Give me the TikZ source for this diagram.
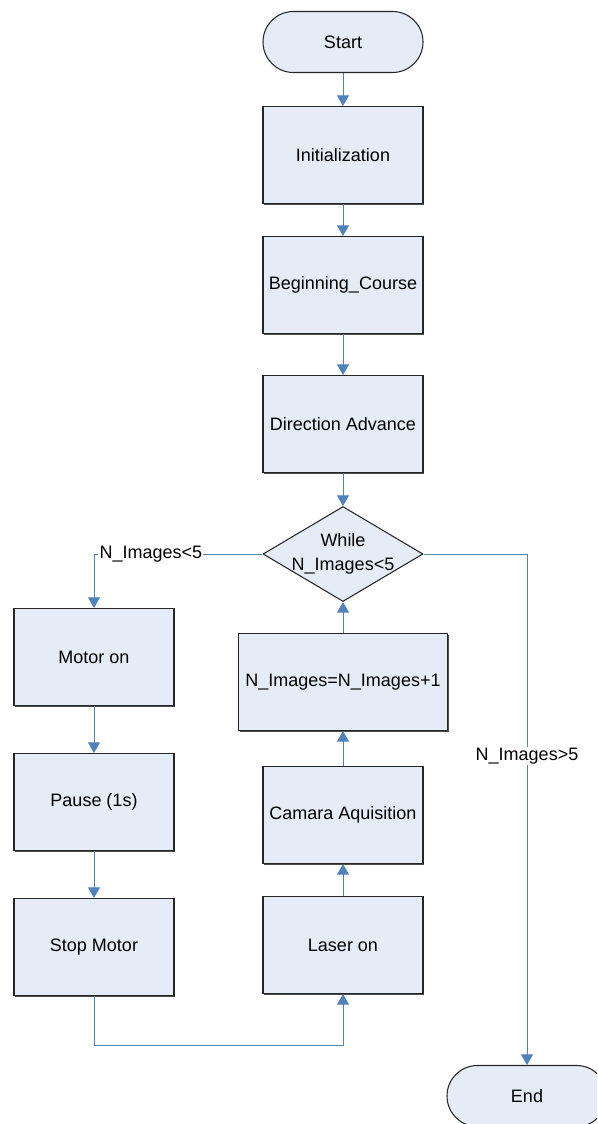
\documentclass[tikz,border=0pt]{standalone}
\usepackage{fontspec}
\setmainfont{Liberation Sans}
\usetikzlibrary{arrows.meta,shapes.geometric,shadows}
\definecolor{boxfill}{HTML}{E6ECF7}
\definecolor{linkblue}{HTML}{4F81BD}
\begin{document}
\begin{tikzpicture}[x=0.75pt,y=-0.75pt,
  font=\fontsize{13.5}{17}\selectfont,
  procbox/.style={draw=black!85, line width=0.8pt, fill=boxfill, rectangle, inner sep=0pt,
    minimum width=120pt, minimum height=72.75pt, align=center,
    drop shadow={shadow xshift=0.9pt, shadow yshift=-0.9pt, fill=black!70, opacity=1}},
  termbox/.style={draw=black!85, line width=0.8pt, fill=boxfill, rectangle, rounded corners=22.8pt,
    inner sep=0pt, minimum width=120pt, minimum height=45.75pt},
  decbox/.style={draw=black!85, line width=0.8pt, fill=boxfill, diamond, inner sep=0pt,
    minimum width=120pt, minimum height=71.25pt},
  link/.style={draw=linkblue, line width=0.75pt, -{Triangle[length=8pt,width=9pt]}},
  lbl/.style={fill=white, inner sep=1pt}
]
\clip (0,0) rectangle (597,1124);
\useasboundingbox (0,0) rectangle (597,1124);

\node[termbox] (start) at (343,42) {Start};
\node[procbox] (init) at (343,155) {Initialization};
\node[procbox] (begin) at (343,285) {Beginning\_Course};
\node[procbox] (dir) at (343,424) {Direction Advance};
\node[decbox] (while) at (343,554) {};
\node[align=center, font=\fontsize{13.5}{18}\selectfont] (whiletxt) at (343,554) {While\\N\_Images<5};
\node[procbox, minimum width=156.75pt] (inc) at (343,682) {N\_Images=N\_Images+1};
\node[procbox] (cam) at (343,815) {Camara Aquisition};
\node[procbox] (laser) at (343,945) {Laser on};
\node[procbox] (motor) at (94,657) {Motor on};
\node[procbox] (pause) at (94,802) {Pause (1s)};
\node[procbox] (stop) at (94,947) {Stop Motor};
\node[termbox] (end) at (527,1096) {End};

\coordinate (cl) at (94,554);
\coordinate (cr) at (527,554);
\coordinate (b1) at (94,1045);
\coordinate (b2) at (343,1045);

\draw[link] (start) -- (init);
\draw[link] (init) -- (begin);
\draw[link] (begin) -- (dir);
\draw[link] (dir) -- (while.north);
\draw[link] (while.west) -- (cl) -- (motor.north);
\draw[link] (while.east) -- (cr) -- (end.north);
\draw[link] (motor) -- (pause);
\draw[link] (pause) -- (stop);
\draw[link] (stop.south) -- (b1) -- (b2) -- (laser.south);
\draw[link] (laser) -- (cam);
\draw[link] (cam) -- (inc);
\draw[link] (inc) -- (while.south);

\node[lbl, anchor=west] (lt) at (98,554) {N\_Images<5};
\node[lbl] (gt) at (527,756) {N\_Images>5};
\end{tikzpicture}
\end{document}
